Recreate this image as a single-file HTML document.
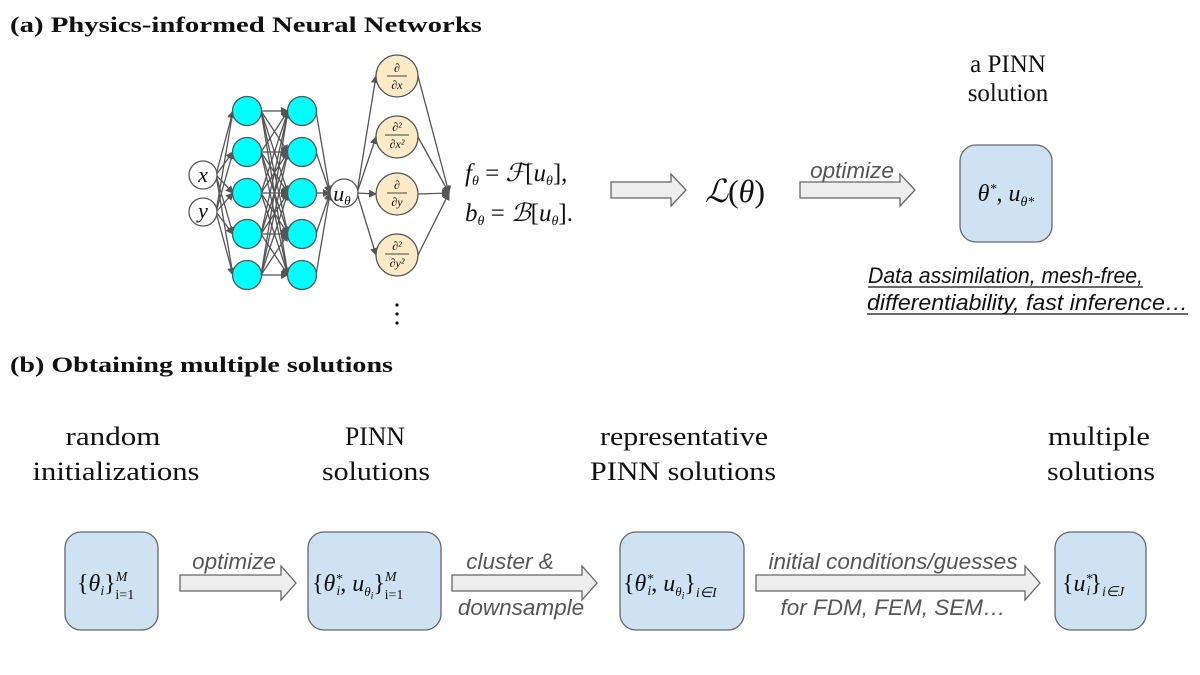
<!DOCTYPE html>
<html><head><meta charset="utf-8"><style>
body{margin:0;background:#fff;}
svg{display:block;}
.t{font-family:"Liberation Serif",serif;fill:#111;}
.s{font-family:"Liberation Sans",sans-serif;font-style:italic;fill:#555;font-size:22.5px;}
.m{font-family:"Liberation Serif",serif;font-style:italic;fill:#111;}
</style></head><body>
<svg id="g" width="1200" height="675" viewBox="0 0 1200 675" xmlns="http://www.w3.org/2000/svg">
<defs>
<marker id="ah" markerWidth="8" markerHeight="8" refX="7" refY="4" orient="auto" markerUnits="userSpaceOnUse"><path d="M0,0 L8,4 L0,8 z" fill="#555"/></marker>
</defs>
<text x="10" y="32" class="t" font-size="22" font-weight="bold" textLength="472" lengthAdjust="spacingAndGlyphs">(a) Physics-informed Neural Networks</text>
<text x="10" y="372" class="t" font-size="22" font-weight="bold" textLength="383" lengthAdjust="spacingAndGlyphs">(b) Obtaining multiple solutions</text>
<g id="edges" stroke="#555" stroke-width="1.3" fill="none"></g>
<g id="nodes"></g>
<g id="lbl">
<g class="m" text-anchor="middle">
<text x="203" y="182" font-size="22">x</text>
<text x="203" y="218" font-size="22">y</text>
<text x="342" y="201" font-size="22">u<tspan font-size="13" dy="4">θ</tspan></text>
</g>
<g class="m" font-size="12" text-anchor="middle">
<text x="397" y="72">∂</text><line x1="387" y1="76" x2="407" y2="76" stroke="#444"/><text x="397" y="89">∂x</text>
<text x="397" y="131">∂²</text><line x1="385" y1="135" x2="409" y2="135" stroke="#444"/><text x="397" y="148">∂x²</text>
<text x="397" y="189">∂</text><line x1="387" y1="193" x2="407" y2="193" stroke="#444"/><text x="397" y="206">∂y</text>
<text x="397" y="250">∂²</text><line x1="385" y1="254" x2="409" y2="254" stroke="#444"/><text x="397" y="267">∂y²</text>
</g>
</g>
<g fill="#111"><circle cx="397" cy="305" r="1.6"/><circle cx="397" cy="314" r="1.6"/><circle cx="397" cy="323" r="1.6"/></g>
<text x="465" y="181" class="m" font-size="25">f<tspan font-size="14" dy="4">θ</tspan><tspan dy="-4" font-style="normal"> = </tspan>ℱ<tspan font-style="normal">[</tspan>u<tspan font-size="14" dy="4">θ</tspan><tspan dy="-4" font-style="normal">],</tspan></text>
<text x="465" y="221" class="m" font-size="25">b<tspan font-size="14" dy="4">θ</tspan><tspan dy="-4" font-style="normal"> = </tspan>ℬ<tspan font-style="normal">[</tspan>u<tspan font-size="14" dy="4">θ</tspan><tspan dy="-4" font-style="normal">].</tspan></text>
<g fill="#eeeeee" stroke="#666" stroke-width="1.3">
<path d="M611,182 H671 V174 L686,190 L671,206 V198 H611 Z"/>
<path d="M800,182 H900 V174 L915,190 L900,206 V198 H800 Z"/>
<path d="M180,575 H281 V566 L296,583 L281,600 V591 H180 Z"/>
<path d="M452,575 H582 V566 L597,583 L582,600 V591 H452 Z"/>
<path d="M756,575 H1025 V566 L1040,583 L1025,600 V591 H756 Z"/>
</g>
<text x="735" y="202" class="m" font-size="32" text-anchor="middle">ℒ<tspan font-style="normal">(</tspan>θ<tspan font-style="normal">)</tspan></text>
<text x="852" y="178" class="s" text-anchor="middle">optimize</text>
<text x="1008" y="72" class="t" font-size="25" text-anchor="middle">a PINN</text>
<text x="1008" y="101" class="t" font-size="25" text-anchor="middle">solution</text>
<g fill="#cfe2f3" stroke="#666" stroke-width="1.3">
<rect x="960" y="145" width="92" height="97" rx="16"/>
<rect x="65" y="532" width="93" height="98" rx="16"/>
<rect x="308" y="532" width="133" height="98" rx="16"/>
<rect x="620" y="532" width="124" height="98" rx="16"/>
<rect x="1055" y="532" width="91" height="98" rx="16"/>
</g>
<text x="1006" y="201" class="m" font-size="24" text-anchor="middle">θ<tspan font-size="14" dy="-8">*</tspan><tspan dy="8" font-style="normal">, </tspan>u<tspan font-size="14" dy="5">θ*</tspan></text>
<text x="868" y="283" class="s" style="fill:#111" textLength="275" lengthAdjust="spacingAndGlyphs">Data assimilation, mesh-free,</text>
<text x="867" y="310" class="s" style="fill:#111" textLength="321" lengthAdjust="spacingAndGlyphs">differentiability, fast inference…</text>
<line x1="868" y1="287" x2="1143" y2="287" stroke="#111" stroke-width="1.2"/>
<line x1="867" y1="314" x2="1188" y2="314" stroke="#111" stroke-width="1.2"/>
<g class="t" font-size="26" text-anchor="middle" lengthAdjust="spacingAndGlyphs">
<text x="113" y="445" textLength="95" lengthAdjust="spacingAndGlyphs">random</text><text x="116" y="480" textLength="167" lengthAdjust="spacingAndGlyphs">initializations</text>
<text x="375" y="445" textLength="60" lengthAdjust="spacingAndGlyphs">PINN</text><text x="376" y="480" textLength="108" lengthAdjust="spacingAndGlyphs">solutions</text>
<text x="684" y="445" textLength="168" lengthAdjust="spacingAndGlyphs">representative</text><text x="683" y="480" textLength="186" lengthAdjust="spacingAndGlyphs">PINN solutions</text>
<text x="1099" y="445" textLength="102" lengthAdjust="spacingAndGlyphs">multiple</text><text x="1101" y="480" textLength="108" lengthAdjust="spacingAndGlyphs">solutions</text>
</g>
<g class="m" font-size="24">
<text x="77" y="591"><tspan font-style="normal">{</tspan>θ<tspan font-size="14" dy="4">i</tspan><tspan dy="-4" font-style="normal">}</tspan><tspan font-size="14" dy="-10">M</tspan><tspan font-size="14" dx="-12" dy="18" font-style="normal">i=1</tspan></text>
<text x="312" y="591"><tspan font-style="normal">{</tspan>θ<tspan font-size="14" dy="-8">*</tspan><tspan font-size="14" dx="-6" dy="12">i</tspan><tspan dy="-4" font-style="normal">, </tspan>u<tspan font-size="13" dy="5">θ</tspan><tspan font-size="10" dy="3">i</tspan><tspan dy="-8" font-style="normal">}</tspan><tspan font-size="14" dy="-10">M</tspan><tspan font-size="14" dx="-12" dy="18" font-style="normal">i=1</tspan></text>
<text x="623" y="591"><tspan font-style="normal">{</tspan>θ<tspan font-size="14" dy="-8">*</tspan><tspan font-size="14" dx="-6" dy="12">i</tspan><tspan dy="-4" font-style="normal">, </tspan>u<tspan font-size="13" dy="5">θ</tspan><tspan font-size="10" dy="3">i</tspan><tspan dy="-8" font-style="normal">}</tspan><tspan font-size="14" dy="6">i∈I</tspan></text>
<text x="1062" y="591"><tspan font-style="normal">{</tspan>u<tspan font-size="14" dy="-8">*</tspan><tspan font-size="14" dx="-6" dy="12">i</tspan><tspan dy="-4" font-style="normal">}</tspan><tspan font-size="14" dy="5">i∈J</tspan></text>
</g>
<text x="234" y="569" class="s" text-anchor="middle">optimize</text>
<text x="510" y="569" class="s" text-anchor="middle">cluster &amp;</text>
<text x="521" y="615" class="s" text-anchor="middle">downsample</text>
<text x="893" y="569" class="s" text-anchor="middle">initial conditions/guesses</text>
<text x="893" y="615" class="s" text-anchor="middle">for FDM, FEM, SEM…</text>
<script>
(function(){
var NS="http://www.w3.org/2000/svg",E=document.getElementById("edges"),N=document.getElementById("nodes");
function L(a,b,c,d){var l=document.createElementNS(NS,"line");l.setAttribute("x1",a);l.setAttribute("y1",b);l.setAttribute("x2",c);l.setAttribute("y2",d);l.setAttribute("marker-end","url(#ah)");E.appendChild(l);}
function C(x,y,r,f){var c=document.createElementNS(NS,"circle");c.setAttribute("cx",x);c.setAttribute("cy",y);c.setAttribute("r",r);c.setAttribute("fill",f);c.setAttribute("stroke","#555");c.setAttribute("stroke-width","1.3");N.appendChild(c);}
var H=[111,152,193,234,275],I=[175,212],D=[76,137,194,255];
I.forEach(function(a){H.forEach(function(b){L(216,a,233,b);});});
H.forEach(function(a){H.forEach(function(b){L(261,a,288,b);});});
H.forEach(function(a){L(316,a,330,193);});
D.forEach(function(d){L(357,193,376,d);});
D.forEach(function(d){L(418,d,449,193);});
I.forEach(function(y){C(203,y,14,"#fff");});
H.forEach(function(y){C(247,y,14.5,"#00ffff");C(302,y,14.5,"#00ffff");});
C(344,193,14,"#fff");
D.forEach(function(y){C(397,y,21,"#fdebc8");});
})();
</script>
</svg>
</body></html>
